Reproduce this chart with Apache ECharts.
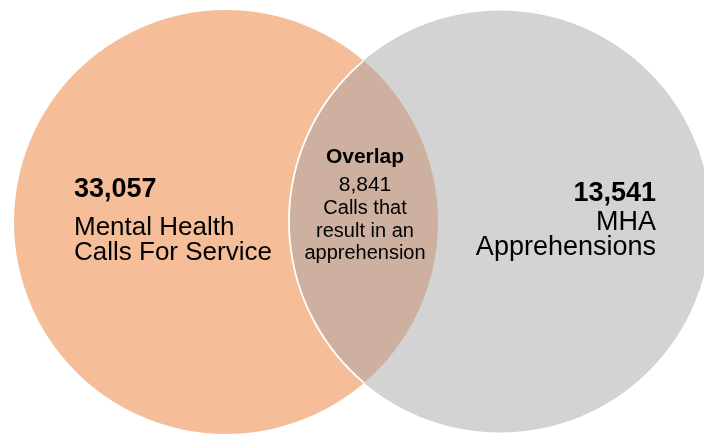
<!DOCTYPE html>
<html><head><meta charset="utf-8">
<script src="https://cdn.jsdelivr.net/npm/echarts@6/dist/echarts.min.js"></script>
<style>html,body{margin:0;padding:0;background:#fff}#c{width:704px;height:434px}</style>
</head><body><div id="c"></div>
<script>
// ---- data ----
const setNames = ['Mental Health\nCalls For Service', 'MHA\nApprehensions'];
const setCounts = [33057, 13541];
const overlapTitle = 'Overlap';
const overlapCount = 8841;
const overlapText = 'Calls that\nresult in an\napprehension';

// ---- layout & style (data space == pixel space of the 704x434 canvas) ----
const circleLayout = [{cx: 226, cy: 222, r: 212}, {cx: 500, cy: 221.5, r: 211}];
const setColors = ['#F5BE99', '#D3D3D3'];
const overlapColor = '#CDB09F';
const FONT = 'Arial, "Liberation Sans", sans-serif';
const labelLayout = [
  {x: 74, align: 'left', numY: 189.5, lineY: [227.5, 252.5], numSize: 27, size: 26},
  {x: 656, align: 'right', numY: 194, lineY: [222.5, 247.5], numSize: 27, size: 27}
];
const overlapLayout = {x: 365, titleY: 157, numY: 185, lineY: [208, 231, 253.5], titleSize: 21, numSize: 21, size: 20};

const fmt = v => v.toLocaleString('en-US');

function txt(p, text, size, bold, align) {
  return {
    type: 'text', x: p[0], y: p[1],
    style: {text: text, fill: '#000', fontSize: size, fontWeight: bold ? 'bold' : 'normal',
      fontFamily: FONT, align: align, verticalAlign: 'middle'}
  };
}

function renderSet(params, api) {
  const i = params.dataIndex;
  const c = api.coord([api.value(0), api.value(1)]);
  const r = api.size([api.value(2), 0])[0];
  const L = labelLayout[i];
  const children = [{type: 'circle', shape: {cx: c[0], cy: c[1], r: r}, style: {fill: setColors[i]}}];
  children.push(txt(api.coord([L.x, L.numY]), fmt(api.value(3)), L.numSize, true, L.align));
  setNames[i].split('\n').forEach((line, k) => {
    children.push(txt(api.coord([L.x, L.lineY[k]]), line, L.size, false, L.align));
  });
  return {type: 'group', children: children};
}

function renderOverlap(params, api) {
  const a = circleLayout[0], b = circleLayout[1];
  const ca = api.coord([a.cx, a.cy]), ra = api.size([a.r, 0])[0];
  const cb = api.coord([b.cx, b.cy]), rb = api.size([b.r, 0])[0];
  const dx = cb[0] - ca[0], dy = cb[1] - ca[1];
  const d = Math.hypot(dx, dy);
  const t = (ra * ra - rb * rb + d * d) / (2 * d);
  const h = Math.sqrt(ra * ra - t * t);
  const mx = ca[0] + dx * t / d, my = ca[1] + dy * t / d;
  const p1 = [mx + dy * h / d, my - dx * h / d];
  const p2 = [mx - dy * h / d, my + dx * h / d];
  const lens = 'M' + p1[0] + ' ' + p1[1] + ' A' + ra + ' ' + ra + ' 0 0 1 ' + p2[0] + ' ' + p2[1] +
    ' A' + rb + ' ' + rb + ' 0 0 1 ' + p1[0] + ' ' + p1[1] + ' Z';
  const edge = 'M' + p2[0] + ' ' + p2[1] + ' A' + rb + ' ' + rb + ' 0 0 1 ' + p1[0] + ' ' + p1[1];
  const O = overlapLayout;
  const children = [
    {type: 'path', shape: {pathData: lens}, style: {fill: overlapColor}},
    {type: 'path', shape: {pathData: edge}, style: {fill: null, stroke: '#fff', lineWidth: 1.8}},
    txt(api.coord([O.x, O.titleY]), overlapTitle, O.titleSize, true, 'center'),
    txt(api.coord([O.x, O.numY]), fmt(api.value(2)), O.numSize, false, 'center')
  ];
  overlapText.split('\n').forEach((line, k) => {
    children.push(txt(api.coord([O.x, O.lineY[k]]), line, O.size, false, 'center'));
  });
  return {type: 'group', children: children};
}

const chart = echarts.init(document.getElementById('c'), null, {renderer: 'canvas'});
chart.setOption({
  animation: false,
  backgroundColor: '#fff',
  grid: {left: 0, right: 0, top: 0, bottom: 0},
  xAxis: {type: 'value', min: 0, max: 704, show: false},
  yAxis: {type: 'value', min: 0, max: 434, inverse: true, show: false},
  series: [
    {
      type: 'custom', name: 'sets', renderItem: renderSet, clip: false,
      data: setCounts.map((v, i) => [circleLayout[i].cx, circleLayout[i].cy, circleLayout[i].r, v])
    },
    {
      type: 'custom', name: 'overlap', renderItem: renderOverlap, clip: false, z: 3,
      data: [[overlapLayout.x, overlapLayout.numY, overlapCount]]
    }
  ]
});
</script></body></html>
